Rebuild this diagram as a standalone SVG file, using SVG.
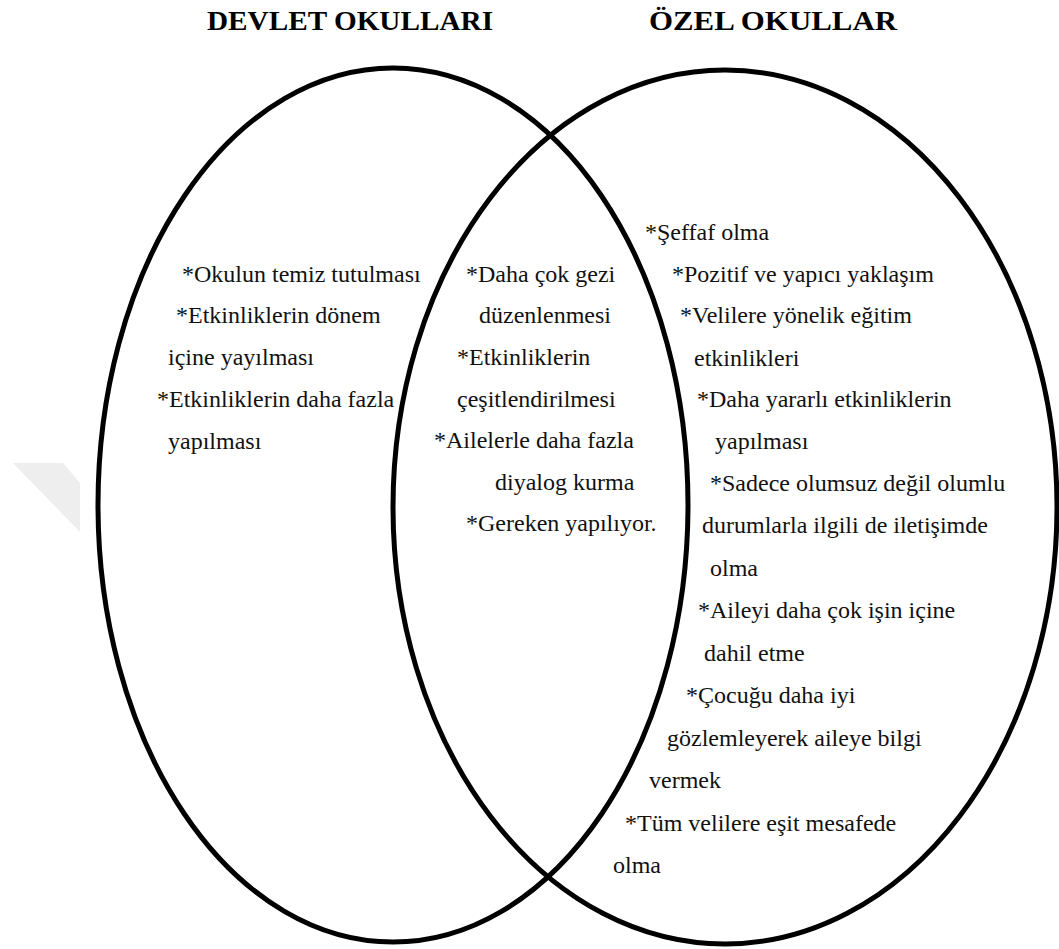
<svg xmlns="http://www.w3.org/2000/svg" width="1059" height="949" viewBox="0 0 1059 949">
  <style>
    .ring { fill: none; stroke: #000; stroke-width: 5; }
    .title { font-family: 'Liberation Serif', 'DejaVu Serif', serif; font-weight: bold; font-size: 28px; fill: #000; }
    .item { font-family: 'Liberation Serif', 'DejaVu Serif', serif; font-weight: normal; font-size: 24px; fill: #111; }
  </style>
  <rect width="1059" height="949" fill="#fff"/>
  <polygon points="13,463 63,463 80,483 80,532" fill="#eeeeee"/>

  <g id="devlet-okullari">
    <ellipse class="ring" cx="393" cy="505" rx="295" ry="437"/>
    <text class="title" x="207" y="30" textLength="286" lengthAdjust="spacingAndGlyphs">DEVLET OKULLARI</text>
    <text class="item" x="182" y="282">*Okulun temiz tutulması</text>
    <text class="item" x="176" y="323">*Etkinliklerin dönem</text>
    <text class="item" x="168" y="365">içine yayılması</text>
    <text class="item" x="157" y="407">*Etkinliklerin daha fazla</text>
    <text class="item" x="168" y="449">yapılması</text>
  </g>

  <g id="ozel-okullar">
    <ellipse class="ring" cx="725" cy="507" rx="332" ry="437"/>
    <text class="title" x="649" y="30" textLength="248" lengthAdjust="spacingAndGlyphs">ÖZEL OKULLAR</text>
    <text class="item" x="645" y="240">*Şeffaf olma</text>
    <text class="item" x="672" y="282">*Pozitif ve yapıcı yaklaşım</text>
    <text class="item" x="680" y="323">*Velilere yönelik eğitim</text>
    <text class="item" x="694" y="366">etkinlikleri</text>
    <text class="item" x="697" y="407">*Daha yararlı etkinliklerin</text>
    <text class="item" x="715" y="449">yapılması</text>
    <text class="item" x="710" y="491">*Sadece olumsuz değil olumlu</text>
    <text class="item" x="702" y="533">durumlarla ilgili de iletişimde</text>
    <text class="item" x="710" y="576">olma</text>
    <text class="item" x="698" y="618">*Aileyi daha çok işin içine</text>
    <text class="item" x="704" y="661">dahil etme</text>
    <text class="item" x="686" y="703">*Çocuğu daha iyi</text>
    <text class="item" x="667" y="746">gözlemleyerek aileye bilgi</text>
    <text class="item" x="649" y="788">vermek</text>
    <text class="item" x="625" y="831">*Tüm velilere eşit mesafede</text>
    <text class="item" x="613" y="873">olma</text>
  </g>

  <g id="ortak">
    <text class="item" x="466" y="282">*Daha çok gezi</text>
    <text class="item" x="479" y="323">düzenlenmesi</text>
    <text class="item" x="457" y="365">*Etkinliklerin</text>
    <text class="item" x="457" y="407">çeşitlendirilmesi</text>
    <text class="item" x="434" y="448">*Ailelerle daha fazla</text>
    <text class="item" x="495" y="490">diyalog kurma</text>
    <text class="item" x="466" y="531">*Gereken yapılıyor.</text>
  </g>

  <g id="connectors"/>
</svg>
